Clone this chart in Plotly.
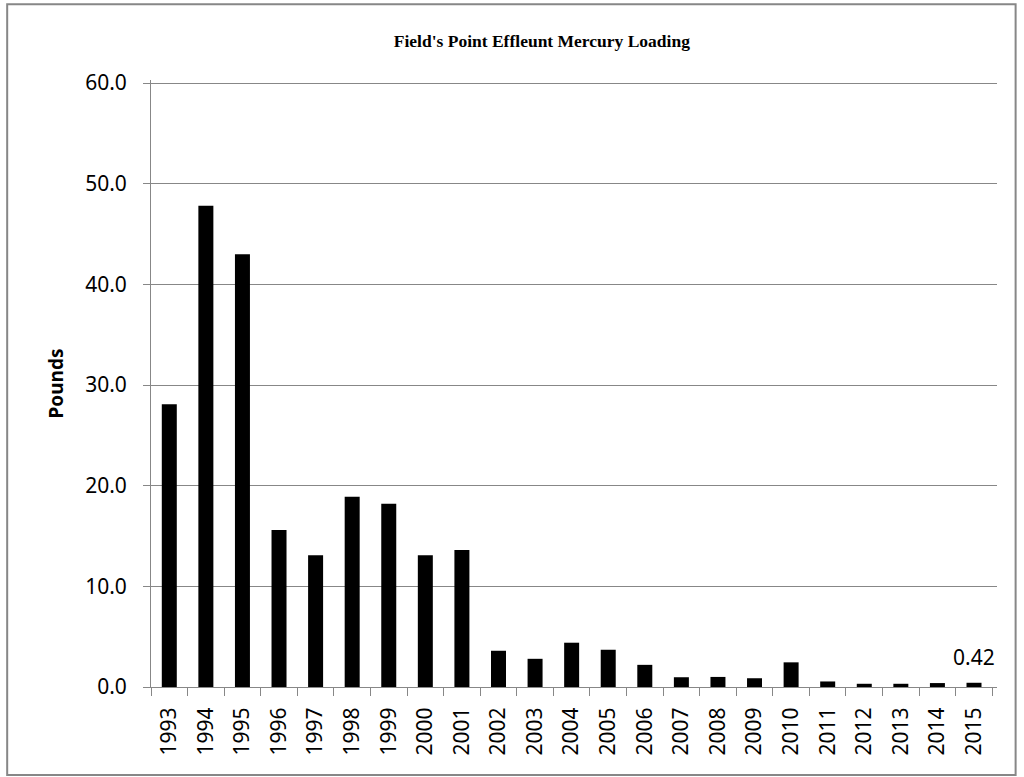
import plotly.graph_objects as go

years = [str(y) for y in range(1993, 2016)]
pounds = [28.1, 47.8, 43.0, 15.6, 13.1, 18.9, 18.2, 13.1, 13.6,
          3.6, 2.8, 4.4, 3.7, 2.2, 0.97, 1.0, 0.87, 2.45,
          0.55, 0.32, 0.32, 0.39, 0.42]
# only the last bar carries a data label
label_year = years[-1]
label_value = pounds[-1]

axis_grey = "#878787"
tick_font = dict(family="Noto Sans", size=21, color="#000")

fig = go.Figure()
fig.add_trace(go.Bar(
    x=years, y=pounds,
    marker=dict(color="#000", line=dict(color="#000", width=0)),
))

# on a category axis the annotation x is the category's index
fig.add_annotation(
    x=years.index(label_year), y=label_value,
    text=f"{label_value:.2f}",
    showarrow=False, yanchor="bottom", yshift=10,
    font=tick_font,
)

fig.update_xaxes(
    type="category",
    tickangle=-90,
    tickfont=tick_font,
    showline=True, linecolor=axis_grey, linewidth=1,
    ticks="outside", tickson="boundaries", ticklen=8, tickcolor=axis_grey,
    ticklabelstandoff=11,
    showgrid=False,
)

# range a bit above 60 so the 60.0 gridline is still drawn
fig.update_yaxes(
    range=[0, 60.3], dtick=10, tickformat=".1f",
    tickfont=tick_font,
    showline=True, linecolor=axis_grey, linewidth=1,
    ticks="outside", ticklen=7, tickcolor=axis_grey,
    ticklabelstandoff=12,
    gridcolor=axis_grey, gridwidth=1,
    zeroline=False,
    title=dict(text="<b>Pounds</b>",
               font=dict(family="Noto Sans", size=19, color="#000"),
               standoff=16),
)

fig.update_layout(
    width=1024, height=777,
    title=dict(
        text="<b>Field's Point Effleunt Mercury Loading</b>",
        font=dict(family="Liberation Serif", size=17.5, color="#000"),
        xref="paper", x=0.462, xanchor="center",
        y=0.948, yanchor="middle",
    ),
    margin=dict(l=151, r=27, t=80, b=90),
    bargap=0.59,
    showlegend=False,
    plot_bgcolor="#fff",
    paper_bgcolor="#fff",
    shapes=[dict(type="rect", xref="paper", yref="paper",
                 x0=-0.170, x1=1.022, y0=-0.145, y1=1.125,
                 line=dict(color=axis_grey, width=2), layer="below")],
)

fig.write_html("out.html", config={"displayModeBar": False},
               post_script="document.body.style.margin='0';")
